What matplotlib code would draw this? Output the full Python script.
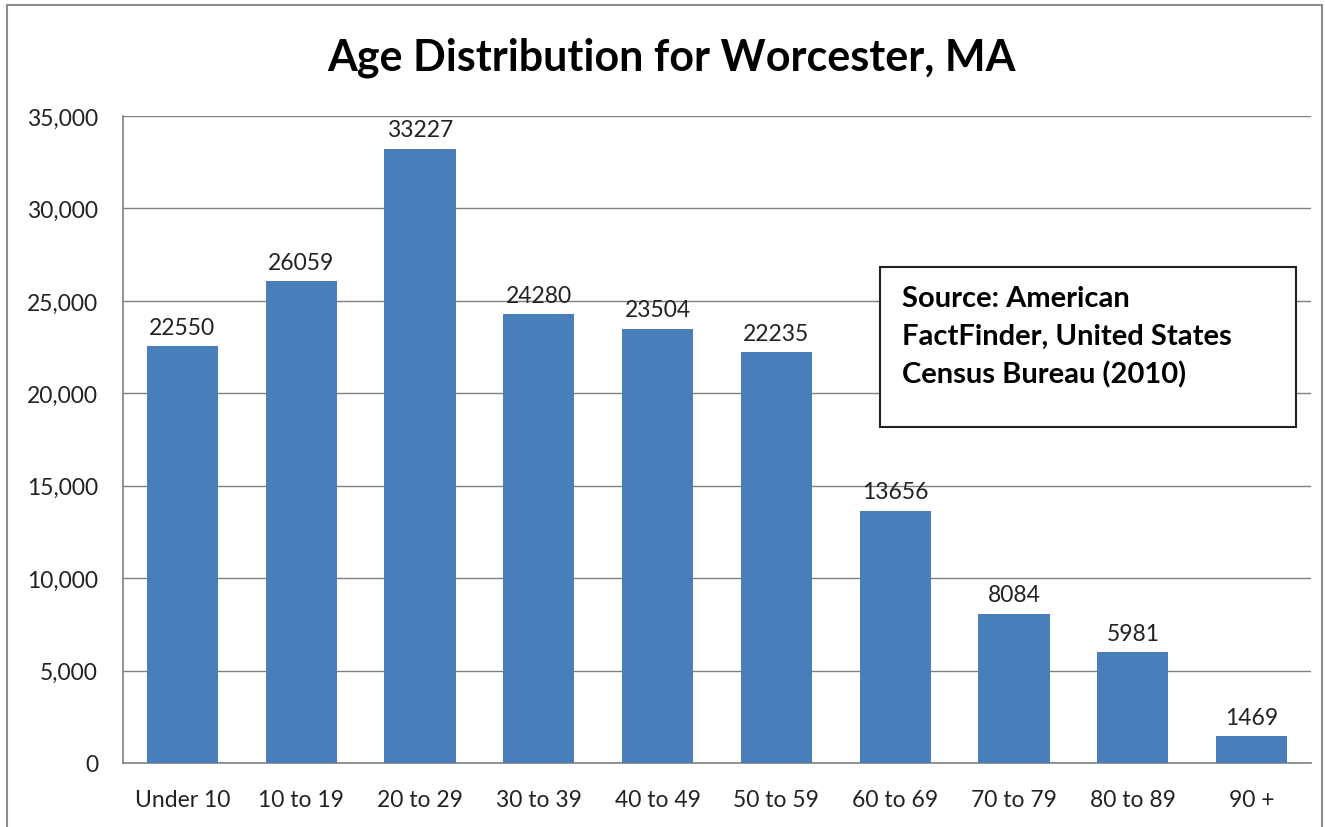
import matplotlib.pyplot as plt
from matplotlib.patches import Rectangle
from matplotlib.ticker import FuncFormatter, MultipleLocator

age_groups = ["Under 10", "10 to 19", "20 to 29", "30 to 39", "40 to 49",
              "50 to 59", "60 to 69", "70 to 79", "80 to 89", "90 +"]
population = [22550, 26059, 33227, 24280, 23504, 22235, 13656, 8084, 5981, 1469]

plt.rcParams['font.family'] = ['Lato', 'DejaVu Sans']

W, H = 1325, 828
fig = plt.figure(figsize=(W / 100, H / 100), dpi=100)
ax = fig.add_axes([123 / W, 1 - 764 / H, (1311 - 123) / W, (764 - 117) / H])

# outer chart border
fig.patches.append(Rectangle((7 / W, -0.01), (1322 - 7) / W, 1 - 6 / H + 0.01,
                             transform=fig.transFigure, fill=False,
                             edgecolor='#8c8c8c', linewidth=1.5))

x = range(len(age_groups))
bars = ax.bar(x, population, width=0.6, color='#4a7ebb', zorder=3)
for b, v in zip(bars, population):
    ax.annotate(str(v), (b.get_x() + b.get_width() / 2, v), xytext=(0, 6),
                textcoords='offset points', ha='center', va='bottom',
                fontsize=16.5, color='#222222')

ax.set_xlim(-0.5, len(age_groups) - 0.5)
ax.set_ylim(0, 35000)
ax.yaxis.set_major_locator(MultipleLocator(5000))
ax.yaxis.set_major_formatter(FuncFormatter(lambda v, p: f"{int(v):,}"))
ax.set_xticks(list(x))
ax.set_xticklabels(age_groups)
ax.tick_params(axis='both', length=0, labelsize=16.5, colors='#222222')
ax.tick_params(axis='x', pad=19)
ax.tick_params(axis='y', pad=18)
ax.grid(axis='y', color='#808080', linewidth=1, zorder=0)

for side in ('top', 'right'):
    ax.spines[side].set_visible(False)
for side in ('left', 'bottom'):
    ax.spines[side].set_color('#808080')
    ax.spines[side].set_linewidth(1.2)

fig.text(671 / W, 1 - 58 / H, "Age Distribution for Worcester, MA",
         ha='center', va='center', fontsize=31, fontweight='bold')

# source box
fig.patches.append(Rectangle((880 / W, 1 - 428 / H), (1296 - 880) / W, (428 - 268) / H,
                             transform=fig.transFigure, facecolor='white',
                             edgecolor='#222222', linewidth=1.5, zorder=5))
fig.text(902 / W, 1 - 286 / H,
         "Source: American\nFactFinder, United States\nCensus Bureau (2010)",
         ha='left', va='top', fontsize=21, fontweight='bold', linespacing=1.55,
         zorder=6)

fig.savefig("out.png", dpi=100)
